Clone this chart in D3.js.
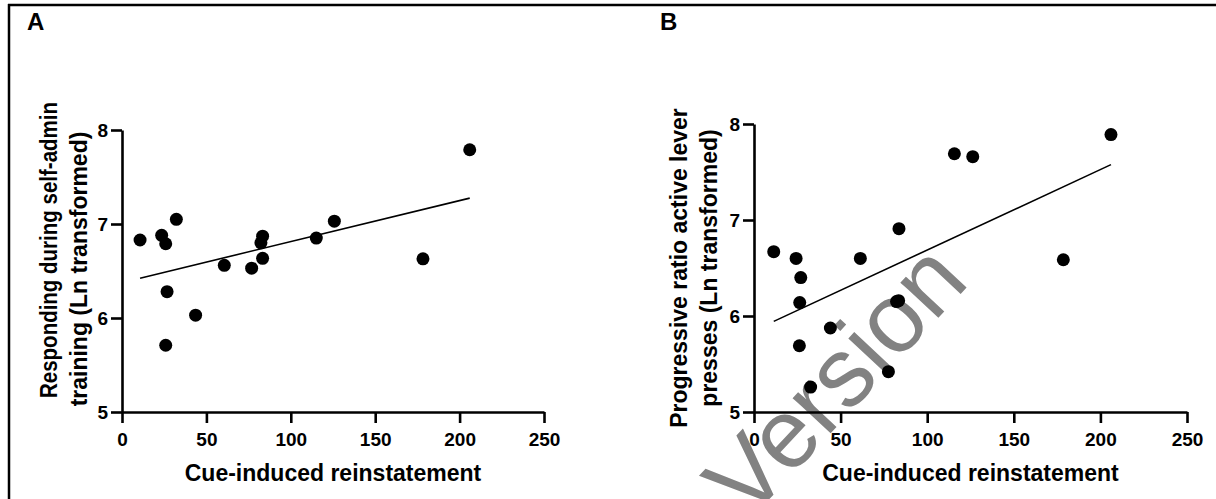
<!DOCTYPE html>
<html><head><meta charset="utf-8">
<script src="https://cdn.jsdelivr.net/npm/d3@7"></script>
<style>
body{margin:0;background:#fff;}
svg{display:block;}
text{font-family:"Liberation Sans",Arial,sans-serif;}
</style></head>
<body>
<svg id="chart" width="1216" height="499"></svg>
<script>
// Data
const xTicks = [0, 50, 100, 150, 200, 250];
const yTicks = [5, 6, 7, 8];
const cueA  = [10.7, 23.5, 25.9, 32.2, 26.7, 25.9, 43.6, 60.6, 76.8, 82.3, 83.3, 83.3, 115.1, 125.8, 178.3, 206.0];
const respA = [6.83, 6.88, 6.79, 7.05, 6.28, 5.71, 6.03, 6.56, 6.53, 6.80, 6.87, 6.635, 6.85, 7.03, 6.63, 7.79];
const cueB  = [11.4, 24.3, 27.0, 26.4, 26.2, 32.7, 44.1, 61.4, 77.6, 83.7, 83.5, 82.3, 115.7, 126.3, 178.6, 206.1];
const prB   = [6.67, 6.60, 6.40, 6.14, 5.69, 5.26, 5.875, 6.60, 5.42, 6.91, 6.16, 6.15, 7.69, 7.66, 6.586, 7.89];
const xLabel = "Cue-induced reinstatement";
const yLabelA = ["Responding during self-admin", "training (Ln transformed)"];
const yLabelB = ["Progressive ratio active lever", "presses (Ln transformed)"];
const watermark = "Version";

const svg = d3.select("#chart");

// watermark (beneath the chart)
svg.append("text").text(watermark)
  .attr("transform", "translate(748,522) rotate(-47)")
  .attr("font-size", 98).attr("fill", "#828282");

// outer frame
svg.append("line").attr("x1", 8).attr("x2", 1216).attr("y1", 5).attr("y2", 5)
  .attr("stroke", "#000").attr("stroke-width", 2.5);
svg.append("line").attr("x1", 9).attr("x2", 9).attr("y1", 4).attr("y2", 499)
  .attr("stroke", "#000").attr("stroke-width", 2.5);

function fit(xs, ys) {
  const mx = d3.mean(xs), my = d3.mean(ys);
  let sxy = 0, sxx = 0;
  xs.forEach((x, i) => { sxy += (x - mx) * (ys[i] - my); sxx += (x - mx) ** 2; });
  const b = sxy / sxx, a = my - b * mx;
  const x0 = d3.min(xs), x1 = d3.max(xs);
  return [[x0, a + b * x0], [x1, a + b * x1]];
}

function panel(o) {
  const x = d3.scaleLinear().domain([0, 250]).range([o.x0, o.x1]);
  const y = d3.scaleLinear().domain([5, 8]).range([o.y0, o.y1]);
  const g = svg.append("g");

  const xa = g.append("g").attr("transform", `translate(0,${o.y0})`)
    .call(d3.axisBottom(x).tickValues(xTicks).tickSize(11).tickSizeOuter(0).tickPadding(10).tickFormat(d3.format("d")));
  const ya = g.append("g").attr("transform", `translate(${o.x0},0)`)
    .call(d3.axisLeft(y).tickValues(yTicks).tickSize(11).tickSizeOuter(0).tickPadding(3).tickFormat(d3.format("d")));
  [xa, ya].forEach(a => {
    a.select(".domain").attr("stroke", "#000").attr("stroke-width", 2.6);
    a.selectAll(".tick line").attr("stroke", "#000").attr("stroke-width", 2.6);
    a.selectAll(".tick text").attr("fill", "#000").attr("font-size", 19).attr("font-weight", "bold")
      .attr("font-family", "Liberation Sans, Arial, sans-serif");
  });
  ya.selectAll(".tick text").attr("dy", "0.36em");

  g.append("text").text(xLabel).attr("x", (o.x0 + o.x1) / 2).attr("y", 481)
    .attr("text-anchor", "middle").attr("font-size", 23).attr("font-weight", "bold");
  o.ylab.forEach((t, i) => {
    const tt = g.append("text").text(t)
      .attr("transform", `translate(${o.ybase[i]},${o.ymid[i]}) rotate(-90)`)
      .attr("text-anchor", "middle").attr("font-size", 23).attr("font-weight", "bold");
    if (o.ylen && o.ylen[i]) tt.attr("textLength", o.ylen[i]).attr("lengthAdjust", "spacingAndGlyphs");
  });
  g.append("text").text(o.letter).attr("x", o.lx).attr("y", 30)
    .attr("font-size", 24).attr("font-weight", "bold");

  const f = fit(o.xs, o.ys);
  g.append("path").attr("d", d3.line().x(d => x(d[0])).y(d => y(d[1]))(f))
    .attr("stroke", "#000").attr("stroke-width", 1.6).attr("fill", "none");

  g.selectAll("circle.pt").data(o.xs.map((v, i) => [v, o.ys[i]])).join("circle")
    .attr("class", "pt").attr("cx", d => x(d[0])).attr("cy", d => y(d[1])).attr("r", 6.5).attr("fill", "#000");
}

panel({x0: 122, x1: 544, y0: 412, y1: 130, xs: cueA, ys: respA, ylab: yLabelA, ybase: [57, 87], ymid: [250, 269], ylen: [296, 0], letter: "A", lx: 27});
panel({x0: 754, x1: 1187, y0: 412, y1: 124, xs: cueB, ys: prB, ylab: yLabelB, ybase: [687, 717], ymid: [268, 268], letter: "B", lx: 660});
</script>
</body></html>
